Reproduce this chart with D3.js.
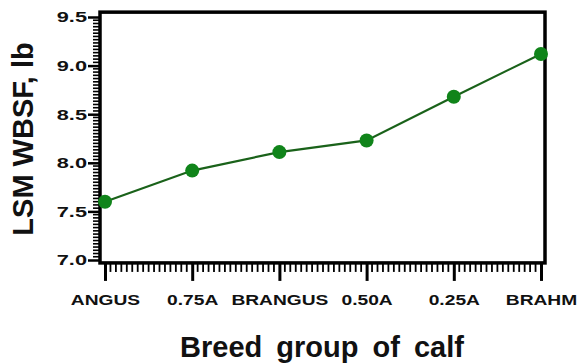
<!DOCTYPE html>
<html>
<head>
<meta charset="utf-8">
<script src="https://cdn.jsdelivr.net/npm/d3@7"></script>
<style>
  html, body { margin: 0; padding: 0; background: #fff; }
  svg text { font-family: "Liberation Sans", Arial, Helvetica, sans-serif; font-weight: bold; fill: #111; }
</style>
</head>
<body>
<svg id="chart" width="579" height="364"></svg>
<script>
// Breed groups of calf, from straight Angus to Brahman
const categories = ["ANGUS", "0.75A", "BRANGUS", "0.50A", "0.25A", "BRAHM"];
// Least-squares mean Warner-Bratzler shear force, lb
const wbsf = [7.60, 7.92, 8.11, 8.23, 8.68, 9.12];
const yTicks = [7.0, 7.5, 8.0, 8.5, 9.0, 9.5];

const svg = d3.select("#chart");

const x = d3.scalePoint().domain(categories).range([105, 541]);
const y = d3.scaleLinear().domain([7.0, 9.5]).range([260, 17]);

const frameLeft = 100, frameRight = 545;
const frameTop = y(9.55), frameBottom = y(6.97);

// minor tick values
const yMinor = [];
for (let i = 0; i < yTicks.length - 1; i++) {
  for (let k = 1; k < 15; k++) yMinor.push(yTicks[i] + (yTicks[i + 1] - yTicks[i]) * k / 15);
}
const xMinor = [];
for (let i = 0; i < categories.length - 1; i++) {
  const a = x(categories[i]), b = x(categories[i + 1]);
  for (let k = 1; k < 16; k++) xMinor.push(a + (b - a) * k / 16);
}

// frame
svg.append("rect")
  .attr("x", frameLeft).attr("y", frameTop)
  .attr("width", frameRight - frameLeft).attr("height", frameBottom - frameTop)
  .attr("fill", "none").attr("stroke", "#000").attr("stroke-width", 3.5);

// y axis: major ticks with labels, then minor ticks
const yAxis = d3.axisLeft(y).tickValues(yTicks).tickSize(12).tickPadding(0)
  .tickFormat(d3.format(".1f"));
const gy = svg.append("g").attr("transform", `translate(${frameLeft},0)`).call(yAxis);
gy.select(".domain").remove();
gy.selectAll(".tick line").attr("stroke", "#000").attr("stroke-width", 2.5);
gy.selectAll(".tick text")
  .attr("x", null)
  .attr("font-size", 15).attr("fill", "#111")
  .attr("transform", "translate(-13,0) scale(1.45,1)")
  .style("font-family", "'Liberation Sans', Arial, sans-serif").style("font-weight", "bold");

svg.append("g").selectAll("line").data(yMinor).join("line")
  .attr("x1", frameLeft - 7).attr("x2", frameLeft)
  .attr("y1", d => y(d)).attr("y2", d => y(d))
  .attr("stroke", "#000").attr("stroke-width", 1.6);

// x axis
const xAxis = d3.axisBottom(x).tickSize(18).tickPadding(13);
const gx = svg.append("g").attr("transform", `translate(0,${frameBottom})`).call(xAxis);
gx.select(".domain").remove();
gx.selectAll(".tick line").attr("stroke", "#000").attr("stroke-width", 3);
gx.selectAll(".tick text").attr("font-size", 15).attr("fill", "#111")
  .attr("transform", "scale(1.28,1)")
  .style("font-family", "'Liberation Sans', Arial, sans-serif").style("font-weight", "bold");

svg.append("g").selectAll("line").data(xMinor).join("line")
  .attr("x1", d => d).attr("x2", d => d)
  .attr("y1", frameBottom).attr("y2", frameBottom + 9)
  .attr("stroke", "#000").attr("stroke-width", 1.8);

// data line and markers
const pts = categories.map((c, i) => [x(c), y(wbsf[i])]);
svg.append("path")
  .attr("d", d3.line()(pts))
  .attr("fill", "none").attr("stroke", "#1a621a").attr("stroke-width", 2.2);
svg.append("g").selectAll("circle").data(pts).join("circle")
  .attr("cx", d => d[0]).attr("cy", d => d[1]).attr("r", 7)
  .attr("fill", "#10841a");

// axis titles
svg.append("text")
  .attr("x", 322).attr("y", 357)
  .attr("text-anchor", "middle").attr("font-size", 29)
  .attr("word-spacing", 6)
  .text("Breed group of calf");
svg.append("text")
  .attr("transform", "translate(33,139) rotate(-90)")
  .attr("text-anchor", "middle").attr("font-size", 29)
  .text("LSM WBSF, lb");
</script>
</body>
</html>
